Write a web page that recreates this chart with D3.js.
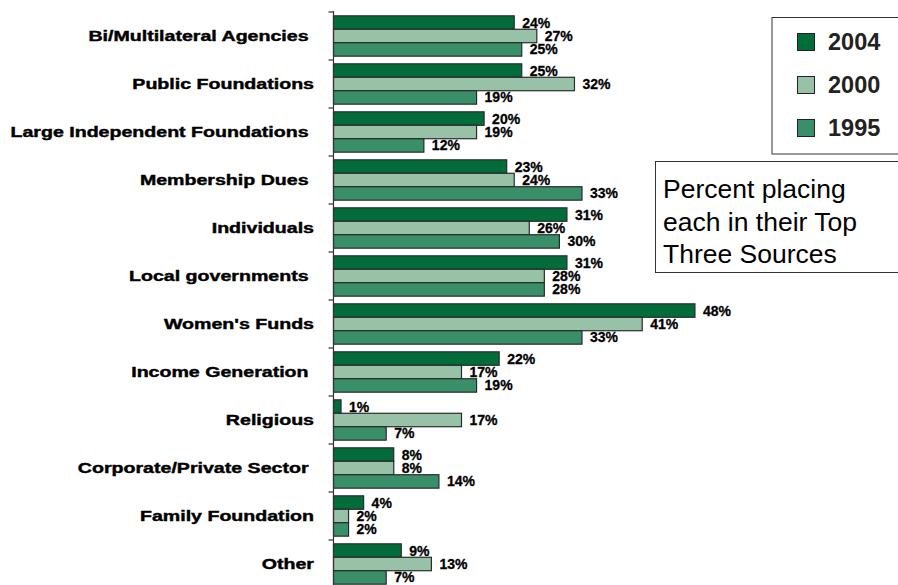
<!DOCTYPE html>
<html>
<head>
<meta charset="utf-8">
<script src="https://cdn.jsdelivr.net/npm/d3@7"></script>
<style>
  html, body { margin: 0; padding: 0; background: #fff; }
  svg { display: block; font-family: "Liberation Sans", Arial, Helvetica, sans-serif; }
</style>
</head>
<body>
<svg id="chart" width="898" height="585"></svg>
<script>
const categories = [
  "Bi/Multilateral Agencies ", "Public Foundations", "Large Independent Foundations ",
  "Membership Dues ", "Individuals", "Local governments ", "Women's Funds",
  "Income Generation ", "Religious", "Corporate/Private Sector ", "Family Foundation", "Other"
];
const seriesNames = ["2004", "2000", "1995"];
const values2004 = [24, 25, 20, 23, 31, 31, 48, 22, 1, 8, 4, 9];
const values2000 = [27, 32, 19, 24, 26, 28, 41, 17, 17, 8, 2, 13];
const values1995 = [25, 19, 12, 33, 30, 28, 33, 19, 7, 14, 2, 7];
const noteLines = ["Percent placing", "each in their Top", "Three Sources"];

const colors = {"2004": "#026d3a", "2000": "#97c2a7", "1995": "#398f68"};
const seriesValues = {"2004": values2004, "2000": values2000, "1995": values1995};

const svg = d3.select("#chart");

const x = d3.scaleLinear().domain([0, 50]).range([333.5, 710]);
const y = d3.scaleBand().domain(categories).range([12, 588]).paddingInner(0.16).paddingOuter(0.08);
const yInner = d3.scaleBand().domain(seriesNames).range([0, y.bandwidth()]);

// bars
const groups = svg.append("g").selectAll("g").data(categories).join("g")
  .attr("transform", d => `translate(0,${y(d)})`);

seriesNames.forEach(s => {
  groups.append("rect")
    .attr("x", x(0))
    .attr("y", yInner(s))
    .attr("width", (d, i) => x(seriesValues[s][i]) - x(0))
    .attr("height", yInner.bandwidth())
    .attr("fill", colors[s])
    .attr("stroke", "#2b2b2b")
    .attr("stroke-width", 1.2);
  groups.append("text")
    .attr("x", (d, i) => x(seriesValues[s][i]) + 8)
    .attr("y", yInner(s) + yInner.bandwidth() / 2)
    .attr("dy", "0.36em")
    .attr("font-size", 14)
    .attr("font-weight", "bold")
    .attr("fill", "#000")
    .attr("stroke", "#000")
    .attr("stroke-width", 0.3)
    .text((d, i) => seriesValues[s][i] + "%");
});

// axis line and ticks
const step = y.step();
const tickPos = d3.range(categories.length).map(i => 12 + i * step);
svg.append("line").attr("x1", x(0)).attr("x2", x(0)).attr("y1", 11).attr("y2", 585)
  .attr("stroke", "#333").attr("stroke-width", 1.2);
svg.append("g").selectAll("line").data(tickPos).join("line")
  .attr("x1", x(0) - 5).attr("x2", x(0)).attr("y1", d => d).attr("y2", d => d)
  .attr("stroke", "#333").attr("stroke-width", 1.2);

// category labels
svg.append("g").selectAll("text").data(categories).join("text")
  .attr("transform", d => `translate(314,${y(d) + y.bandwidth() / 2}) scale(1.4,1)`)
  .attr("text-anchor", "end")
  .attr("dy", "0.36em")
  .attr("font-size", 14)
  .attr("font-weight", "bold")
  .attr("fill", "#000")
  .attr("stroke", "#000")
  .attr("stroke-width", 0.4)
  .style("white-space", "pre")
  .text(d => d);

// legend
const leg = svg.append("g");
leg.append("rect").attr("x", 772).attr("y", 17.5).attr("width", 140).attr("height", 136.5)
  .attr("fill", "#fff").attr("stroke", "#333").attr("stroke-width", 1);
seriesNames.forEach((s, i) => {
  const cy = 42 + i * 43;
  leg.append("rect").attr("x", 797.5).attr("y", cy - 8.5).attr("width", 17).attr("height", 17)
    .attr("fill", colors[s]).attr("stroke", "#222").attr("stroke-width", 1);
  leg.append("text").attr("x", 828).attr("y", cy).attr("dy", "0.36em")
    .attr("font-size", 23.5).attr("font-weight", "bold").attr("fill", "#222").text(s);
});

// note box
const note = svg.append("g");
note.append("rect").attr("x", 655.5).attr("y", 161.5).attr("width", 260).attr("height", 111)
  .attr("fill", "#fff").attr("stroke", "#333").attr("stroke-width", 1);
note.selectAll("text").data(noteLines).join("text")
  .attr("x", 663).attr("y", (d, i) => 198 + i * 32.5)
  .attr("font-size", 26.5).attr("fill", "#000").text(d => d);
</script>
</body>
</html>
